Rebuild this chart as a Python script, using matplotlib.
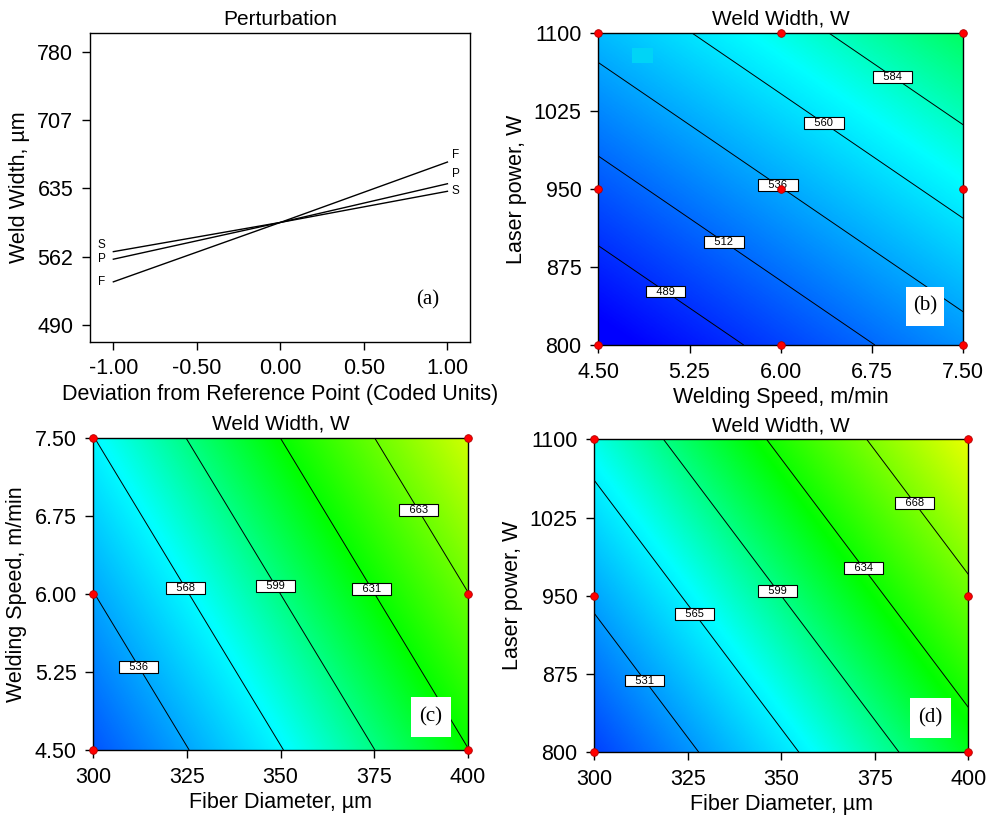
import numpy as np
import matplotlib
matplotlib.use("Agg")
import matplotlib.pyplot as plt
from matplotlib.colors import LinearSegmentedColormap, Normalize
from matplotlib.patches import Rectangle

plt.rcParams['font.family'] = ['Liberation Sans', 'DejaVu Sans']

# ---------------- data ----------------
coded = [-1.0, 0.0, 1.0]
resp_F = [536, 599, 663]   # fiber diameter perturbation
resp_P = [560, 599, 640]   # laser power perturbation
resp_S = [568, 599, 632]   # welding speed perturbation
pert_xticks = [-1.0, -0.5, 0.0, 0.5, 1.0]
pert_xticklabels = ['-1.00', '-0.50', '0.00', '0.50', '1.00']
pert_yticks = [490, 562.5, 635, 707.5, 780]
pert_yticklabels = ['490', '562', '635', '707', '780']

fiber_range = [300, 400]
power_range = [800, 1100]
speed_range = [4.5, 7.5]
fiber_ticks = [300, 325, 350, 375, 400]
power_ticks = [800, 875, 950, 1025, 1100]
speed_ticks = [4.50, 5.25, 6.00, 6.75, 7.50]

levels_b = [489, 512, 536, 560, 584]
levels_c = [536, 568, 599, 631, 663]
levels_d = [531, 565, 599, 634, 668]

pts_b_speed = [4.5, 6.0, 7.5, 4.5, 6.0, 7.5, 4.5, 6.0, 7.5]
pts_b_power = [800, 800, 800, 950, 950, 950, 1100, 1100, 1100]
pts_c_fiber = [300, 300, 300, 400, 400, 400]
pts_c_speed = [4.5, 6.0, 7.5, 4.5, 6.0, 7.5]
pts_d_fiber = [300, 300, 300, 400, 400, 400]
pts_d_power = [800, 950, 1100, 800, 950, 1100]

# colour scale stops (response value -> colour)
cmap_values = [470, 570, 630, 710]
cmap_colors = ['#0000ff', '#00ffff', '#00ff00', '#ffff00']

# ---------------- model from perturbation data ----------------
center = resp_F[1]
eff_F = (resp_F[2] - resp_F[0]) / 2
eff_P = (resp_P[2] - resp_P[0]) / 2
eff_S = (resp_S[2] - resp_S[0]) / 2


def code(x, rng):
    mid = (rng[0] + rng[1]) / 2
    half = (rng[1] - rng[0]) / 2
    return (np.asarray(x) - mid) / half


def model(F=0.0, P=0.0, S=0.0):
    return center + eff_F * F + eff_P * P + eff_S * S


vmin, vmax = cmap_values[0], cmap_values[-1]
cmap = LinearSegmentedColormap.from_list(
    'dx', [((v - vmin) / (vmax - vmin), c) for v, c in zip(cmap_values, cmap_colors)])
norm = Normalize(vmin, vmax)

fig = plt.figure(figsize=(9.93, 8.16), dpi=100)

TICK_FS = 15.5
LAB_FS = 15.5
TITLE_FS = 15

def style_axes(ax):
    ax.tick_params(direction='out', length=6, width=1, pad=6, labelsize=TICK_FS)
    for s in ax.spines.values():
        s.set_linewidth(1)

# ---------------- (a) perturbation ----------------
axa = fig.add_axes([0.0906, 0.5812, 0.3827, 0.3780])
for resp in (resp_F, resp_P, resp_S):
    axa.plot(coded, resp, color='black', lw=1)
axa.set_xlim(-1.14, 1.135)
axa.set_ylim(472.5, 799.5)
axa.set_xticks(pert_xticks)
axa.set_xticklabels(pert_xticklabels)
axa.set_yticks(pert_yticks)
axa.set_yticklabels(pert_yticklabels)
style_axes(axa)
axa.set_title('Perturbation', fontsize=TITLE_FS, pad=6)
axa.set_xlabel('Deviation from Reference Point (Coded Units)', fontsize=LAB_FS, labelpad=3)
axa.set_ylabel('Weld Width, µm', fontsize=LAB_FS, labelpad=5)
left_off = {'F': 0, 'P': 0, 'S': 5}
right_off = {'F': 5, 'P': 7, 'S': 0}
for name, resp in (('F', resp_F), ('P', resp_P), ('S', resp_S)):
    axa.annotate(name, (coded[0], resp[0]), xytext=(-8.5, left_off[name]),
                 textcoords='offset points', ha='center', va='center', fontsize=8.5)
    axa.annotate(name, (coded[-1], resp[-1]), xytext=(6, right_off[name]),
                 textcoords='offset points', ha='center', va='center', fontsize=8.5)
axa.text(0.889, 0.135, '(a)', transform=axa.transAxes, ha='center', va='center',
         fontsize=15, family=['Liberation Serif'])


def contour_panel(rect, xr, yr, Zfun, levels, manual, xticks, yticks, xfmt, yfmt,
                  xlabel, ylabel, px, py, tag, tagbox):
    ax = fig.add_axes(rect)
    xs = np.linspace(xr[0], xr[1], 300)
    ys = np.linspace(yr[0], yr[1], 300)
    X, Y = np.meshgrid(xs, ys)
    Z = Zfun(X, Y)
    ax.imshow(Z, origin='lower', extent=[xr[0], xr[1], yr[0], yr[1]], aspect='auto',
              cmap=cmap, norm=norm, interpolation='bilinear')
    cs = ax.contour(X, Y, Z, levels=levels, colors='black', linewidths=0.7)
    ax.set_xlim(xr)
    ax.set_ylim(yr)
    ax.set_xticks(xticks)
    ax.set_xticklabels([xfmt.format(t) for t in xticks])
    ax.set_yticks(yticks)
    ax.set_yticklabels([yfmt.format(t) for t in yticks])
    style_axes(ax)
    ax.set_title('Weld Width, W', fontsize=TITLE_FS, pad=6)
    ax.set_xlabel(xlabel, fontsize=LAB_FS, labelpad=3)
    ax.set_ylabel(ylabel, fontsize=LAB_FS, labelpad=5)
    texts = ax.clabel(cs, levels, inline=False, manual=manual, fontsize=8,
                      fmt=lambda v: '   %d   ' % round(v))
    for t in texts:
        t.set_rotation(0)
        t.set_bbox(dict(boxstyle='square,pad=0.08', fc='white', ec='black', lw=0.8))
        t.set_zorder(5)
    ax.plot(px, py, 'o', color='#ff0000', mec='#b00000', mew=0.6, ms=5.5,
            clip_on=False, zorder=6, ls='none')
    x0, x1, y0, y1 = tagbox
    ax.add_patch(Rectangle((x0, y0), x1 - x0, y1 - y0, transform=ax.transAxes,
                           fc='white', ec='none', zorder=4))
    ax.text((x0 + x1) / 2, (y0 + y1) / 2, tag, transform=ax.transAxes, ha='center',
            va='center', fontsize=15, family=['Liberation Serif'], zorder=5)
    return ax

# ---------------- (b) ----------------
axb = contour_panel([0.6025, 0.5772, 0.3676, 0.3820], speed_range, power_range,
                    lambda X, Y: model(F=-1.0, P=code(Y, power_range), S=code(X, speed_range)),
                    levels_b, [(5.05, 851), (5.55, 902), (5.99, 956), (6.37, 1016), (6.93, 1060)],
                    speed_ticks, power_ticks, '{:.2f}', '{:.0f}',
                    'Welding Speed, m/min', 'Laser power, W', pts_b_speed, pts_b_power,
                    '(b)', (0.8425, 0.9474, 0.061, 0.187))
axb.add_patch(Rectangle((0.0915, 0.9057), 0.0592, 0.0462, transform=axb.transAxes,
                        fc='#00d4f6', ec='none', zorder=2))

# ---------------- (c) ----------------
axc = contour_panel([0.0940, 0.0809, 0.3770, 0.3820], fiber_range, speed_range,
                    lambda X, Y: model(F=code(X, fiber_range), S=code(Y, speed_range)),
                    levels_c, [(312.5, 5.31), (324.8, 6.06), (349.1, 6.09), (374.8, 6.06), (387.4, 6.82)],
                    fiber_ticks, speed_ticks, '{:.0f}', '{:.2f}',
                    'Fiber Diameter, µm', 'Welding Speed, m/min', pts_c_fiber, pts_c_speed,
                    '(c)', (0.8486, 0.9546, 0.0427, 0.169))

# ---------------- (d) ----------------
axd = contour_panel([0.5985, 0.0781, 0.3766, 0.3835], fiber_range, power_range,
                    lambda X, Y: model(F=code(X, fiber_range), P=code(Y, power_range)),
                    levels_d, [(313.6, 869), (327.4, 934), (349.7, 956), (372.4, 978), (386.2, 1041)],
                    fiber_ticks, power_ticks, '{:.0f}', '{:.0f}',
                    'Fiber Diameter, µm', 'Laser power, W', pts_d_fiber, pts_d_power,
                    '(d)', (0.8441, 0.9545, 0.0466, 0.1725))

fig.savefig('out.png', dpi=100)
